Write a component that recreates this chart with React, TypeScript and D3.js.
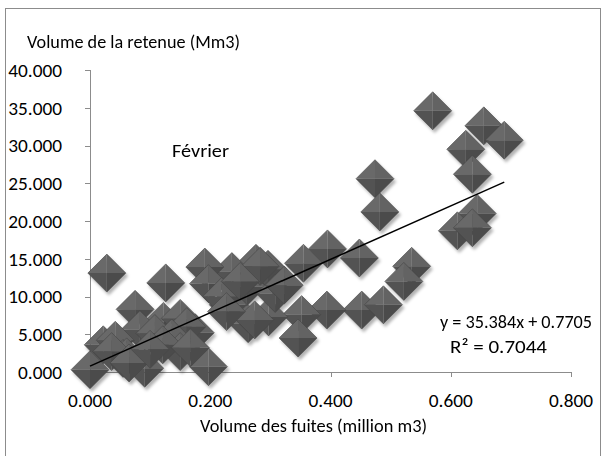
import React from "react";
import * as d3 from "d3";

// Monthly observations for February: leakage volume vs. reservoir storage
const fuites: number[] = [
  0.570, 0.655, 0.689, 0.625, 0.636, 0.644, 0.611, 0.636, 0.474, 0.482,
  0.535, 0.522, 0.448, 0.395, 0.355, 0.452, 0.488, 0.394, 0.352, 0.346,
  0.297, 0.263, 0.276, 0.305, 0.296, 0.236, 0.191, 0.197, 0.261, 0.230,
  0.219, 0.308, 0.274, 0.197, 0.175, 0.028, 0.126, 0.075, 0.122, 0.150,
  0.161, 0.083, 0.108, 0.136, 0.150, 0.091, 0.000, 0.022, 0.042, 0.055,
  0.061, 0.036, 0.121, 0.167, 0.283, 0.250, 0.065, 0.100, 0.323, 0.227,
];
const retenue: number[] = [
  34.6, 32.6, 30.7, 29.5, 26.2, 21.0, 18.7, 19.1, 25.6, 21.2,
  14.0, 12.0, 15.1, 16.3, 14.4, 8.2, 8.9, 8.2, 7.6, 4.5,
  7.3, 6.4, 14.4, 12.8, 13.6, 13.3, 13.9, 11.7, 11.3, 8.9,
  10.0, 10.4, 6.9, 0.7, 5.2, 13.1, 11.8, 8.3, 6.7, 7.1,
  6.0, 5.6, 5.1, 4.5, 2.7, 0.5, 0.3, 3.6, 4.2, 1.8,
  2.0, 2.7, 3.6, 3.2, 14.0, 12.0, 1.2, 3.0, 11.5, 8.0,
];

const xTicks: number[] = [0, 0.2, 0.4, 0.6, 0.8];
const yTicks: number[] = [0, 5, 10, 15, 20, 25, 30, 35, 40];

// Linear trend reported for the series
const slope = 35.384;
const intercept = 0.7705;
const r2 = 0.7044;

const FONT = "Carlito, Calibri, Lato, 'Open Sans', sans-serif";
const FS = 19.3;

export default function App() {
  const x = d3.scaleLinear().domain([0, 0.8]).range([90, 571]);
  const y = d3.scaleLinear().domain([0, 40]).range([372, 70]);
  const fmt = d3.format(".3f");

  const points = fuites.map((f, i) => ({ fx: f, ry: retenue[i] }));
  const trendX = d3.extent(fuites) as [number, number];
  const line = d3
    .line<number>()
    .x((d) => x(d))
    .y((d) => y(slope * d + intercept));

  const h = 19; // half-diagonal of the diamond marker

  return (
    <svg
      width={606}
      height={456}
      style={{ position: "absolute", left: 0, top: 0, background: "#fff" }}
      fontFamily={FONT}
    >
      <defs>
        <filter id="shadow" x="-40%" y="-40%" width="180%" height="180%">
          <feDropShadow dx="2" dy="3" stdDeviation="1.8" floodColor="#000" floodOpacity="0.3" />
        </filter>
      </defs>

      <rect x={5.5} y={8.5} width={595} height={460} fill="#fff" stroke="#8c8c8c" strokeWidth={1} />

      {/* axes */}
      <line x1={90.5} x2={90.5} y1={y(40)} y2={y(0)} stroke="#8c8c8c" />
      <line x1={90} x2={x(0.8)} y1={y(0) + 0.5} y2={y(0) + 0.5} stroke="#8c8c8c" />
      {yTicks.map((t) => (
        <g key={"y" + t}>
          <line x1={85} x2={90} y1={Math.round(y(t)) + 0.5} y2={Math.round(y(t)) + 0.5} stroke="#8c8c8c" />
          <text x={62} y={y(t)} dy="0.35em" textAnchor="end" fontSize={FS} fill="#000">
            {fmt(t)}
          </text>
        </g>
      ))}
      {xTicks.map((t) => (
        <g key={"x" + t}>
          <line
            x1={Math.round(x(t)) + 0.5}
            x2={Math.round(x(t)) + 0.5}
            y1={y(0)}
            y2={y(0) + 5}
            stroke="#8c8c8c"
          />
          <text x={x(t)} y={407} textAnchor="middle" fontSize={FS} fill="#000">
            {fmt(t)}
          </text>
        </g>
      ))}

      {/* markers */}
      <g filter="url(#shadow)">
        {points.map((p, i) => {
          const cx = x(p.fx);
          const cy = y(p.ry);
          return (
            <g key={i} transform={`translate(${cx},${cy})`}>
              <path d={`M${-h},0L0,${-h}L0,0Z`} fill="#696969" />
              <path d={`M0,${-h}L${h},0L0,0Z`} fill="#636363" />
              <path d={`M${-h},0L0,${h}L0,0Z`} fill="#525252" />
              <path d={`M${h},0L0,${h}L0,0Z`} fill="#4b4b4b" />
              <path
                d={`M${-h},0L0,${-h}L${h},0L0,${h}Z`}
                fill="none"
                stroke="#444"
                strokeWidth={0.6}
              />
            </g>
          );
        })}
      </g>

      {/* trend line */}
      <path d={line(trendX) ?? ""} fill="none" stroke="#000" strokeWidth={1.5} />

      {/* titles and annotations */}
      <text x={27} y={48} fontSize={FS} fill="#000" textLength={213} lengthAdjust="spacingAndGlyphs">
        Volume de la retenue (Mm3)
      </text>
      <text x={200} y={432} fontSize={FS} fill="#000" textLength={227} lengthAdjust="spacingAndGlyphs">
        Volume des fuites (million m3)
      </text>
      <text x={172} y={157} fontSize={FS} fill="#000" textLength={57} lengthAdjust="spacingAndGlyphs">
        Février
      </text>
      <text x={440} y={328} fontSize={18.2} fill="#000">
        {`y = ${slope}x + ${intercept}`}
      </text>
      <text x={450} y={353} fontSize={18.6} fill="#000" textLength={97} lengthAdjust="spacingAndGlyphs">
        {`R² = ${r2}`}
      </text>
    </svg>
  );
}
